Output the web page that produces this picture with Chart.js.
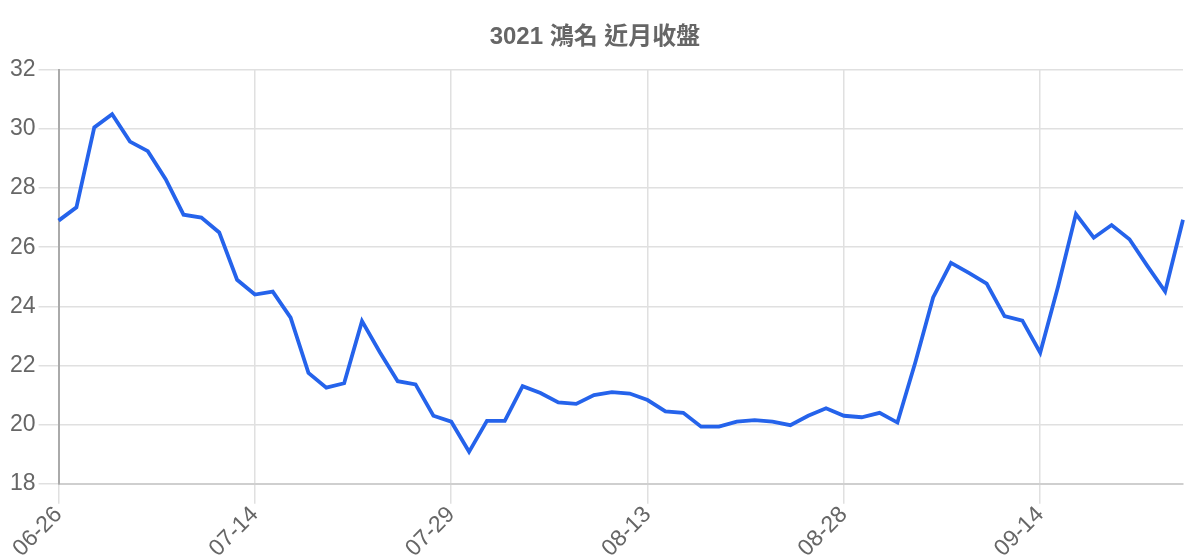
<!DOCTYPE html>
<html>
<head>
<meta charset="utf-8">
<script src="https://cdn.jsdelivr.net/npm/chart.js@4"></script>
<style>
html,body{margin:0;padding:0;background:#fff;}
#wrap{width:1200px;height:560px;position:relative;}
</style>
</head>
<body>
<div id="wrap"><canvas id="c"></canvas></div>
<script>
const titleText = '3021 鴻名 近月收盤';
const dates = [
 '06-26','06-29','06-30','07-01','07-02','07-03','07-06','07-07','07-08','07-09','07-10',
 '07-14','07-15','07-16','07-17','07-20','07-21','07-22','07-23','07-24','07-27','07-28',
 '07-29','07-30','07-31','08-03','08-04','08-05','08-06','08-07','08-10','08-11','08-12',
 '08-13','08-14','08-17','08-18','08-19','08-20','08-21','08-24','08-25','08-26','08-27',
 '08-28','08-31','09-01','09-02','09-03','09-04','09-07','09-08','09-09','09-10','09-11',
 '09-14','09-15','09-16','09-17','09-18','09-21','09-22','09-23','09-24'
];
const closes = [
 26.9, 27.35, 30.05, 30.5, 29.57, 29.25, 28.3, 27.1, 27.0, 26.5, 24.9,
 24.4, 24.5, 23.62, 21.75, 21.25, 21.4, 23.5, 22.45, 21.47, 21.36, 20.3,
 20.1, 19.08, 20.13, 20.13, 21.3, 21.07, 20.75, 20.7, 21.0, 21.1, 21.05,
 20.83, 20.45, 20.4, 19.93, 19.93, 20.1, 20.15, 20.1, 19.98, 20.3, 20.55,
 20.3, 20.25, 20.4, 20.07, 22.1, 24.3, 25.47, 25.13, 24.77, 23.67, 23.52,
 22.43, 24.67, 27.12, 26.32, 26.75, 26.27, 25.37, 24.5, 26.93
];
const yMin = 18, yMax = 32, yStep = 2;
const labelEvery = 11;

const baseFont = "'Liberation Sans', Arial, 'Noto Sans CJK TC', sans-serif";
Chart.defaults.font.family = baseFont;

new Chart(document.getElementById('c'), {
  type: 'line',
  data: {
    labels: dates,
    datasets: [{
      data: closes,
      borderColor: '#2563eb',
      borderWidth: 3.8,
      pointRadius: 0,
      pointHoverRadius: 0,
      tension: 0,
      fill: false
    }]
  },
  options: {
    responsive: true,
    maintainAspectRatio: false,
    animation: false,
    layout: { padding: { top: 13, right: 17, left: 7, bottom: 0 } },
    plugins: {
      legend: { display: false },
      tooltip: { enabled: false },
      title: {
        display: true,
        text: titleText,
        color: '#666',
        font: { size: 24, weight: 'bold', family: baseFont },
        padding: { top: 10, bottom: 18 }
      }
    },
    scales: {
      x: {
        offset: false,
        afterBuildTicks: (scale) => {
          scale.ticks = scale.ticks.filter(t => t.value % labelEvery === 0);
        },
        ticks: {
          autoSkip: false,
          maxRotation: 45,
          minRotation: 45,
          color: '#666',
          font: { size: 23, lineHeight: 0.9 },
          padding: 0
        },
        grid: {
          color: '#e0e0e0',
          lineWidth: 1.5,
          tickLength: 20,
          drawTicks: true
        },
        border: { display: true, color: '#cfcfcf', width: 2 }
      },
      y: {
        min: yMin,
        max: yMax,
        ticks: {
          stepSize: yStep,
          color: '#666',
          font: { size: 23 },
          padding: 3
        },
        grid: {
          color: '#e0e0e0',
          lineWidth: 1.5,
          tickLength: 20
        },
        border: { display: true, color: '#aaa', width: 2 }
      }
    }
  }
});
</script>
</body>
</html>
